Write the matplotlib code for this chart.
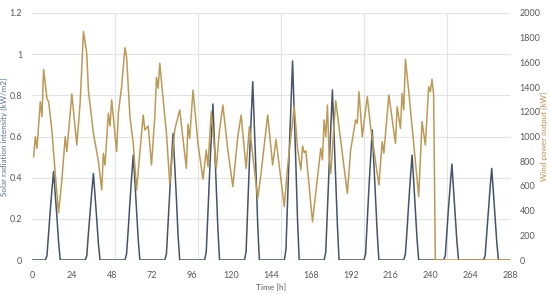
# coding: utf-8
import numpy as np
import matplotlib
matplotlib.use("Agg")
import matplotlib.pyplot as plt

plt.rcParams['font.family'] = ['Lato', 'DejaVu Sans']

# x axis ticks
time_ticks = [0, 24, 48, 72, 96, 120, 144, 168, 192, 216, 240, 264, 288]
grid_x = [0, 50, 100, 150, 200, 250]

# solar radiation [kW/m2], daylight hours 8..17 of each day (zero otherwise)
solar_day_hours = [8, 9, 10, 11, 12, 13, 14, 15, 16, 17]
solar_days = [
    [0, 0.02, 0.13, 0.24, 0.34, 0.43, 0.32, 0.21, 0.09, 0],
    [0, 0.02, 0.13, 0.23, 0.33, 0.42, 0.31, 0.20, 0.08, 0],
    [0, 0.03, 0.15, 0.28, 0.40, 0.51, 0.38, 0.24, 0.10, 0],
    [0, 0.03, 0.18, 0.34, 0.48, 0.615, 0.46, 0.30, 0.12, 0],
    [0, 0.04, 0.23, 0.42, 0.59, 0.758, 0.56, 0.36, 0.15, 0],
    [0, 0.04, 0.26, 0.48, 0.68, 0.866, 0.64, 0.42, 0.17, 0],
    [0, 0.05, 0.29, 0.53, 0.75, 0.967, 0.72, 0.46, 0.19, 0],
    [0, 0.04, 0.25, 0.45, 0.64, 0.826, 0.61, 0.40, 0.17, 0],
    [0, 0.03, 0.19, 0.35, 0.49, 0.632, 0.47, 0.30, 0.13, 0],
    [0, 0.03, 0.15, 0.28, 0.40, 0.51, 0.38, 0.24, 0.10, 0],
    [0, 0.02, 0.14, 0.26, 0.36, 0.466, 0.34, 0.22, 0.09, 0],
    [0, 0.02, 0.13, 0.24, 0.35, 0.445, 0.33, 0.21, 0.09, 0],
]

# wind power output [kW] (hour, value)
wind_hours = [1, 2, 3, 5, 6, 7, 9, 10, 12, 14, 16, 18, 20, 21, 24, 27, 29, 31, 33, 34,
              37, 40, 42, 43, 44, 46, 47, 48, 51, 52, 54, 56, 57, 59, 61, 63, 67, 68, 70, 72,
              74, 75, 76, 77, 79, 81, 83, 86, 89, 93, 94, 95, 97, 100, 103, 105, 106, 108, 111, 113,
              115, 118, 121, 124, 126, 129, 131, 136, 138, 142, 145, 147, 152, 154, 158, 160, 162, 163, 164, 165,
              169, 174, 175, 176, 177, 178, 179, 180, 183, 190, 192, 195, 196, 197, 199, 202, 204, 209, 211, 212,
              215, 219, 220, 222, 223, 224, 225, 227, 233, 235, 237, 239, 240, 241, 242, 243, 288]
wind_kw = [836, 998, 904, 1282, 1160, 1544, 1309, 1282, 1050, 700, 383, 648, 998, 877, 1344, 931, 1271, 1850, 1670, 1370,
           1028, 800, 567, 864, 769, 1188, 1085, 1296, 877, 1188, 1403, 1719, 1646, 1160, 945, 567, 1174, 1053, 1085, 769,
           1160, 1479, 1390, 1592, 1300, 1026, 621, 1053, 1215, 742, 1101, 985, 1376, 945, 653, 891, 756, 1201, 742, 1053,
           1255, 891, 594, 998, 1174, 742, 1080, 499, 702, 1174, 769, 977, 432, 756, 1247, 900, 729, 923, 870, 883,
           310, 904, 810, 1134, 998, 1255, 850, 702, 1290, 540, 891, 1134, 1107, 1363, 998, 1322, 1080, 607, 958, 864,
           1336, 945, 1241, 1066, 1349, 1215, 1625, 1363, 513, 1120, 931, 1403, 1363, 1463, 1336, 0, 0]

solar_color = '#44546A'
wind_color = '#BC9A55'
text_color = '#595959'

# full hourly solar series
hours = np.arange(0, 289)
solar = np.zeros(len(hours))
for d, vals in enumerate(solar_days):
    for h, v in zip(solar_day_hours, vals):
        solar[24 * d + h] = v

fig = plt.figure(figsize=(5.5, 2.95), dpi=100)
ax = fig.add_axes([32 / 550, 1 - 260 / 295, (510 - 32) / 550, (260 - 13) / 295])
ax.plot(hours, solar, color=solar_color, lw=1.1, zorder=3)
ax.set_xlim(0, 288)
ax.set_ylim(0, 1.2)
ax.set_xticks(time_ticks)
ax.set_xticks(grid_x, minor=True)
ax.set_yticks([0, 0.2, 0.4, 0.6, 0.8, 1.0, 1.2])
ax.set_yticklabels(['0', '0.2', '0.4', '0.6', '0.8', '1', '1.2'])
ax.grid(axis='y', color='#E3E3E3', lw=0.8)
ax.grid(axis='x', which='minor', color='#E3E3E3', lw=0.8)
ax.tick_params(axis='both', which='both', length=0, labelsize=6.5, colors=text_color)
ax.tick_params(axis='x', pad=8)
ax.tick_params(axis='y', pad=7)
for s in ax.spines.values():
    s.set_visible(False)
ax.set_xlabel('Time [h]', fontsize=6, color=text_color, labelpad=3)
ax.set_ylabel('Solar radiation intensity [kW/m2]', fontsize=5.8, color='#5B7090')
ax.yaxis.set_label_coords(-0.05, 0.5)

ax2 = ax.twinx()
ax2.plot(wind_hours, wind_kw, color=wind_color, lw=1.1, zorder=4)
ax2.set_ylim(0, 2000)
ax2.set_yticks(range(0, 2001, 200))
ax2.tick_params(axis='y', length=0, labelsize=6.5, colors=text_color, pad=7)
for s in ax2.spines.values():
    s.set_visible(False)
ax2.set_ylabel('Wind power output [kW]', fontsize=5.8, color='#C09050')
ax2.yaxis.set_label_coords(1.064, 0.5)

fig.savefig('out.png', dpi=100)
